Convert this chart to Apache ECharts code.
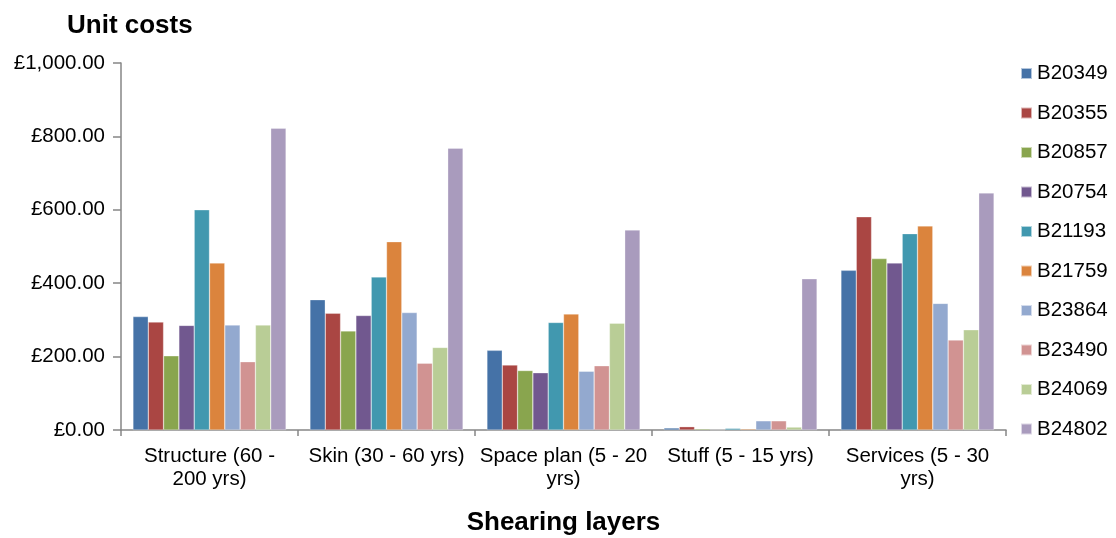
<!DOCTYPE html>
<html>
<head>
<meta charset="utf-8">
<script src="https://cdn.jsdelivr.net/npm/echarts@6/dist/echarts.min.js"></script>
<style>
  html, body { margin: 0; padding: 0; background: #fff; }
  #chart { width: 1116px; height: 538px; }
</style>
</head>
<body>
<div id="chart"></div>
<script>
// Shearing layers (building life-cycle layers)
const categories = [
  'Structure (60 -\n200 yrs)',
  'Skin (30 - 60 yrs)',
  'Space plan (5 - 20\nyrs)',
  'Stuff (5 - 15 yrs)',
  'Services (5 - 30\nyrs)'
];

// Unit costs per building, one value per layer
const B20349 = [309, 355, 217, 5.5, 435];
const B20355 = [294, 318, 177, 9, 581];
const B20857 = [202, 270, 162, 3, 467];
const B20754 = [285, 312, 156, 1, 455];
const B21193 = [600, 417, 293, 4.5, 535];
const B21759 = [455, 513, 316, 3, 556];
const B23864 = [286, 320, 160, 25, 345];
const B23490 = [186, 182, 175, 25, 245];
const B24069 = [286, 225, 291, 8, 273];
const B24802 = [822, 768, 545, 412, 646];

const seriesNames = ['B20349', 'B20355', 'B20857', 'B20754', 'B21193',
                     'B21759', 'B23864', 'B23490', 'B24069', 'B24802'];
const seriesValues = [B20349, B20355, B20857, B20754, B21193,
                      B21759, B23864, B23490, B24069, B24802];
const colors = ['#4572A7', '#AA4643', '#89A54E', '#71588F', '#4198AF',
                '#DB843D', '#93A9CF', '#D19392', '#B9CD96', '#A99BBD'];

const yTicks = { min: 0, max: 1000, interval: 200 };

const font = 'Liberation Sans, Arial, sans-serif';
const axisGrey = '#868686';

function formatPounds(v) {
  const s = v.toFixed(2);
  const [intPart, dec] = s.split('.');
  return '£' + intPart.replace(/\B(?=(\d{3})+(?!\d))/g, ',') + '.' + dec;
}

const chart = echarts.init(document.getElementById('chart'));
chart.setOption({
  animation: false,
  color: colors,
  textStyle: { fontFamily: font },
  title: {
    text: 'Unit costs',
    left: 67,
    top: 13,
    padding: 0,
    textStyle: { fontFamily: font, fontSize: 26, fontWeight: 'bold', color: '#000' }
  },
  legend: {
    orient: 'vertical',
    left: 1020,
    top: 63,
    padding: 0,
    itemWidth: 11,
    itemHeight: 11,
    itemGap: 18.5,
    icon: 'rect',
    textStyle: { fontFamily: font, fontSize: 20.5, color: '#000' },
    data: seriesNames
  },
  grid: { left: 121, right: 110, top: 63, bottom: 108, containLabel: false, outerBoundsMode: 'none' },
  xAxis: {
    type: 'category',
    data: categories,
    name: 'Shearing layers',
    nameLocation: 'middle',
    nameGap: 80,
    nameTextStyle: { fontFamily: font, fontSize: 26, fontWeight: 'bold', color: '#000', verticalAlign: 'top' },
    axisLine: { lineStyle: { color: axisGrey, width: 1.5 } },
    axisTick: { show: true, length: 6, inside: false, alignWithLabel: false, lineStyle: { color: axisGrey, width: 1.5 } },
    axisLabel: { fontFamily: font, fontSize: 20.5, color: '#000', lineHeight: 23, margin: 15, interval: 0 }
  },
  yAxis: {
    type: 'value',
    min: yTicks.min,
    max: yTicks.max,
    interval: yTicks.interval,
    axisLine: { show: true, lineStyle: { color: axisGrey, width: 1.5 } },
    axisTick: { show: true, length: 8, lineStyle: { color: axisGrey, width: 1.5 } },
    splitLine: { show: false },
    axisLabel: { fontFamily: font, fontSize: 20.5, color: '#000', margin: 16, formatter: formatPounds }
  },
  series: seriesNames.map((name, i) => ({
    name: name,
    type: 'bar',
    data: seriesValues[i],
    barGap: '0%',
    barCategoryGap: '13.5%',
    itemStyle: { color: colors[i], borderColor: 'rgba(255,255,255,0.6)', borderWidth: 0.5 }
  }))
});
</script>
</body>
</html>
